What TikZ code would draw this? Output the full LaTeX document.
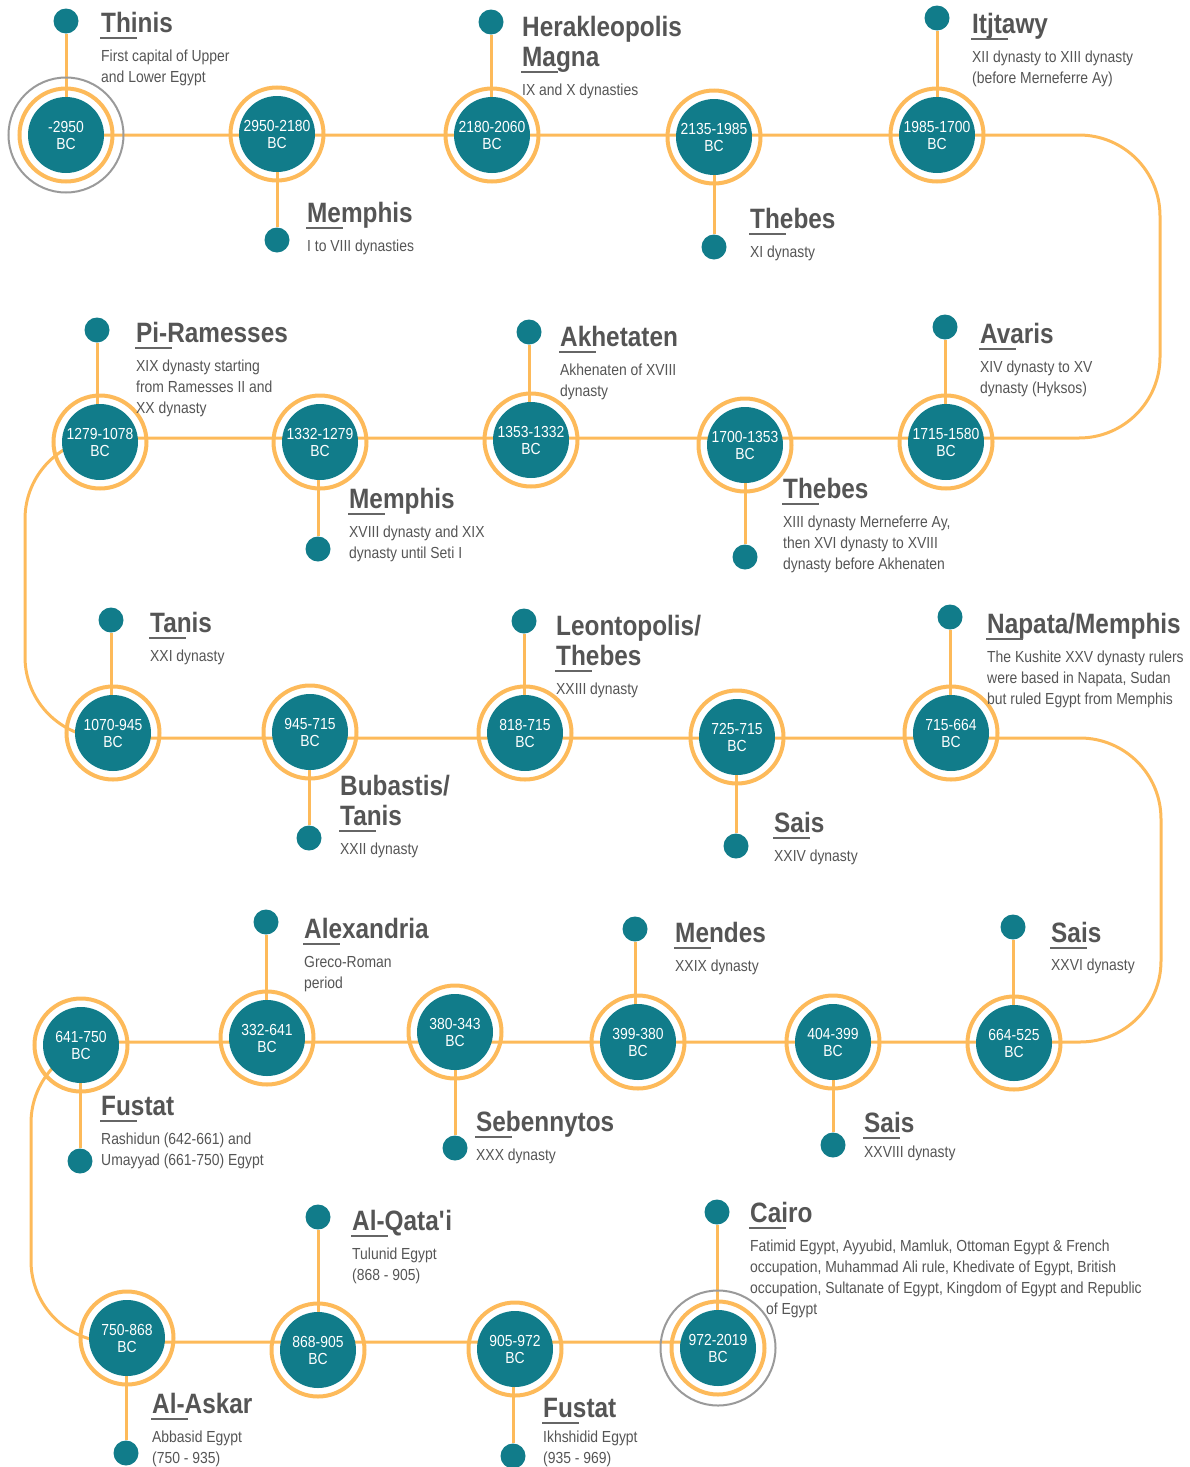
\documentclass[tikz,border=0pt]{standalone}
\usepackage{fontspec}
\setmainfont{Liberation Sans}[FakeStretch=0.87]
\usetikzlibrary{backgrounds}
\definecolor{teal1}{HTML}{117C8A}
\definecolor{orng}{HTML}{FDBA5A}
\definecolor{txtg}{HTML}{555555}
\definecolor{ringg}{HTML}{9A9A9A}
\tikzset{
 conn/.style={draw=orng, line width=3pt},
 ring/.style={circle, draw=orng, line width=4pt, minimum size=93pt, inner sep=0pt},
 outerring/.style={circle, draw=ringg, line width=2pt, minimum size=115pt, inner sep=0pt},
 disc/.style={circle, fill=teal1, minimum size=76pt, inner sep=0pt},
 disctext/.style={inner sep=0pt, text=white, align=center, font=\fontsize{16}{17}\selectfont},
 dot/.style={circle, fill=teal1, minimum size=25pt, inner sep=0pt},
 ttl/.style={anchor=base west, inner sep=0pt, text=txtg, font=\fontsize{28}{30}\selectfont\bfseries},
 dsc/.style={anchor=base west, inner sep=0pt, text=txtg, font=\fontsize{16}{21}\selectfont},
 uline/.style={draw=txtg!90, line width=1.5pt},
}
% circle on the time line: id, x, y, years
\newcommand\era[4]{%
  \node[ring] (#1r) at (#2,#3) {};
  \node[disc] (#1) at (#2,#3) {};
  \node[disctext] (#1t) at (#1) {#4\\BC};
}
% small dot with spoke: id of circle, x, y
\newcommand\pin[3]{%
  \node[dot] (#1p) at (#2,#3) {};
  \begin{pgfonlayer}{background}
    \draw[conn] (#1p) -- (#1p |- #1);
  \end{pgfonlayer}
}
% caption: [desc offset], id, x, title baseline, title lines, desc lines
\newcommand\entry[6][29]{%
  \foreach \ttxt [count=\i] in {#5} {
    \node[ttl] (#2T\i) at (#3, #4+30*\i-30) {\ttxt};
    \global\let\ntl\i
  }
  \pgfmathsetmacro\yb{#4+30*(\ntl-1)}
  \draw[uline] (#3-1, \yb+6) coordinate (#2u1) -- (#3+36, \yb+6) coordinate (#2u2);
  \foreach \dtxt [count=\j] in {#6} {
    \node[dsc] (#2D\j) at (#3, \yb+#1+21*\j-21) {\dtxt};
  }
}
\begin{document}
\begin{tikzpicture}[x=1pt,y=-1pt]
\useasboundingbox (0,0) rectangle (1190,1467);

% ---- circles
\node[outerring] (A1o) at (66,135) {};
\era{A1}{66}{135}{-2950}
\era{A2}{277}{134}{2950-2180}
\era{A3}{492}{135}{2180-2060}
\era{A4}{714}{137}{2135-1985}
\era{A5}{937}{135}{1985-1700}

\era{B1}{100}{442}{1279-1078}
\era{B2}{320}{442}{1332-1279}
\era{B3}{531}{440}{1353-1332}
\era{B4}{745}{445}{1700-1353}
\era{B5}{946}{442}{1715-1580}

\era{C1}{113}{733}{1070-945}
\era{C2}{310}{732}{945-715}
\era{C3}{525}{733}{818-715}
\era{C4}{737}{737}{725-715}
\era{C5}{951}{733}{715-664}

\era{D1}{81}{1045}{641-750}
\era{D2}{267}{1038}{332-641}
\era{D3}{455}{1032}{380-343}
\era{D4}{638}{1042}{399-380}
\era{D5}{833}{1042}{404-399}
\era{D6}{1014}{1043}{664-525}

\node[outerring] (E4o) at (718,1348) {};
\era{E1}{127}{1338}{750-868}
\era{E2}{318}{1350}{868-905}
\era{E3}{515}{1349}{905-972}
\era{E4}{718}{1348}{972-2019}

% ---- dots with spokes
\pin{A1}{66}{21}
\pin{A2}{277}{240}
\pin{A3}{491}{22}
\pin{A4}{714}{247}
\pin{A5}{937}{18}
\pin{B1}{97}{330}
\pin{B2}{318}{549}
\pin{B3}{529}{332}
\pin{B4}{745}{557}
\pin{B5}{945}{327}
\pin{C1}{111}{620}
\pin{C2}{309}{838}
\pin{C3}{524}{621}
\pin{C4}{736}{846}
\pin{C5}{950}{617}
\pin{D1}{80}{1161}
\pin{D2}{266}{922}
\pin{D3}{455}{1148}
\pin{D4}{635}{929}
\pin{D5}{833}{1145}
\pin{D6}{1013}{927}
\pin{E1}{126}{1453}
\pin{E2}{318}{1217}
\pin{E3}{513}{1456}
\pin{E4}{717}{1212}

% ---- the winding time line
\coordinate (kA) at (1160,135);
\coordinate (kB) at (1160,438);
\coordinate (kC) at (25,438);
\coordinate (kD) at (25,738);
\coordinate (kE) at (1161,738);
\coordinate (kF) at (1161,1042);
\coordinate (kG) at (31,1042);
\coordinate (kH) at (31,1342);
\begin{pgfonlayer}{background}
\draw[conn, rounded corners=81pt] (A1 |- kA) -- (kA) -- (kB) -- (kC) -- (kD) -- (kE) -- (kF) -- (kG) -- (kH) -- (E4 |- kH);
\end{pgfonlayer}

% ---- captions
\entry{A1}{101}{32}{Thinis}{First capital of Upper, and Lower Egypt}
\entry{A2}{307}{222}{Memphis}{I to VIII dynasties}
\entry{A3}{522}{36}{Herakleopolis, Magna}{IX and X dynasties}
\entry{A4}{750}{228}{Thebes}{XI dynasty}
\entry{A5}{972}{33}{Itjtawy}{XII dynasty to XIII dynasty, (before Merneferre Ay)}

\entry{B1}{136}{342}{Pi-Ramesses}{XIX dynasty starting, from Ramesses II and, XX dynasty}
\entry{B2}{349}{508}{Memphis}{XVIII dynasty and XIX, dynasty until Seti I}
\entry{B3}{560}{346}{Akhetaten}{Akhenaten of XVIII, dynasty}
\entry{B4}{783}{498}{Thebes}{{XIII dynasty Merneferre Ay,}, then XVI dynasty to XVIII, dynasty before Akhenaten}
\entry{B5}{980}{343}{Avaris}{XIV dynasty to XV, dynasty (Hyksos)}

\entry{C1}{150}{632}{Tanis}{XXI dynasty}
\entry{C2}{340}{795}{Bubastis/, Tanis}{XXII dynasty}
\entry{C3}{556}{635}{Leontopolis/, Thebes}{XXIII dynasty}
\entry{C4}{774}{832}{Sais}{XXIV dynasty}
\entry{C5}{987}{633}{Napata/Memphis}{The Kushite XXV dynasty rulers, {were based in Napata, Sudan}, but ruled Egypt from Memphis}

\entry{D1}{101}{1115}{Fustat}{Rashidun (642-661) and, Umayyad (661-750) Egypt}
\entry{D2}{304}{938}{Alexandria}{Greco-Roman, period}
\entry{D3}{476}{1131}{Sebennytos}{XXX dynasty}
\entry{D4}{675}{942}{Mendes}{XXIX dynasty}
\entry[25]{D5}{864}{1132}{Sais}{XXVIII dynasty}
\entry[28]{D6}{1051}{942}{Sais}{XXVI dynasty}

\entry{E1}{152}{1413}{Al-Askar}{Abbasid Egypt, (750 - 935)}
\entry{E2}{352}{1230}{Al-Qata\textquotesingle i}{Tulunid Egypt, (868 - 905)}
\entry[25]{E3}{543}{1417}{Fustat}{Ikhshidid Egypt, (935 - 969)}
\entry{E4}{750}{1222}{Cairo}{{Fatimid Egypt, Ayyubid, Mamluk, Ottoman Egypt \& French}, {occupation, Muhammad Ali rule, Khedivate of Egypt, British}, {occupation, Sultanate of Egypt, Kingdom of Egypt and Republic}, \hspace{16pt}of Egypt}
\end{tikzpicture}
\end{document}
